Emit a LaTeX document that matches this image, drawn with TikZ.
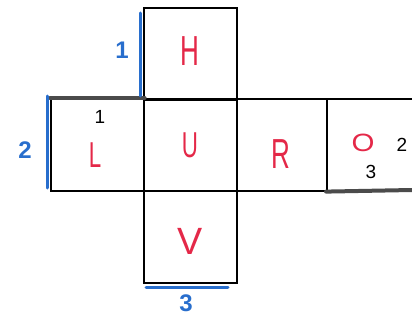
\documentclass[tikz,border=0pt]{standalone}
\usepackage{fontspec}
\setmainfont{Liberation Sans}
\begin{document}
\begin{tikzpicture}[x=1pt,y=-1pt,
  cell/.style={draw=black,line width=1.6pt,minimum width=93pt,minimum height=92pt,inner sep=0pt,anchor=north west},
  letter/.style={text=redink,font=\fontsize{42}{42}\selectfont,xscale=0.62,inner sep=0pt},
  num/.style={text=black,font=\fontsize{19}{19}\selectfont,inner sep=0pt},
  bluenum/.style={text=blueink,font=\bfseries\fontsize{24}{24}\selectfont,inner sep=0pt},
  blueline/.style={draw=blueink,line width=3pt,line cap=round},
  edge/.style={draw=edgegray,line width=4pt,line cap=round}]
\definecolor{redink}{RGB}{228,40,72}
\definecolor{blueink}{RGB}{40,110,205}
\definecolor{edgegray}{RGB}{75,75,75}
\useasboundingbox (0,0) rectangle (412,321);
\begin{scope}
\clip (0,0) rectangle (412,321);
\node[cell] (cH) at (143,7) {};
\node[cell] (cL) at (50,98) {};
\node[cell] (cU) at (143,98) {};
\node[cell,minimum width=90pt] (cR) at (236,98) {};
\node[cell] (cO) at (326,98) {};
\node[cell] (cV) at (143,190) {};
% thick gray edges
\coordinate (oe) at (412,190);
\draw[edge] (cL.north west) -- (cL.north east);
\draw[edge] (cO.south west) -- (oe);
\end{scope}
% blue edge marks
\coordinate (b1a) at (140,13); \coordinate (b1b) at (140,96);
\coordinate (b2a) at (47,96); \coordinate (b2b) at (47,188);
\coordinate (b3a) at (146,287); \coordinate (b3b) at (228,287);
\draw[blueline] (b1a) -- (b1b);
\draw[blueline] (b2a) -- (b2b);
\draw[blueline] (b3a) -- (b3b);
\node[bluenum] (n1) at (122,50) {1};
\node[bluenum] (n2) at (25,150) {2};
\node[bluenum] (n3) at (186,303) {3};
% letters
\node[letter] (H) at (190,51) {H};
\node[letter,font=\fontsize{36}{36}\selectfont] (L) at (95,155) {L};
\node[letter,font=\fontsize{36}{36}\selectfont] (U) at (190,145) {U};
\node[letter] (R) at (281,154) {R};
\node[letter,font=\fontsize{25}{25}\selectfont,xscale=1.9] (O) at (363,143) {O};
\node[letter,font=\fontsize{38}{38}\selectfont,xscale=1.6] (V) at (190,241) {V};
% small numbers
\node[num] (s1) at (100,117) {1};
\node[num] (s2) at (402,145) {2};
\node[num] (s3) at (371,172) {3};
\end{tikzpicture}
\end{document}
